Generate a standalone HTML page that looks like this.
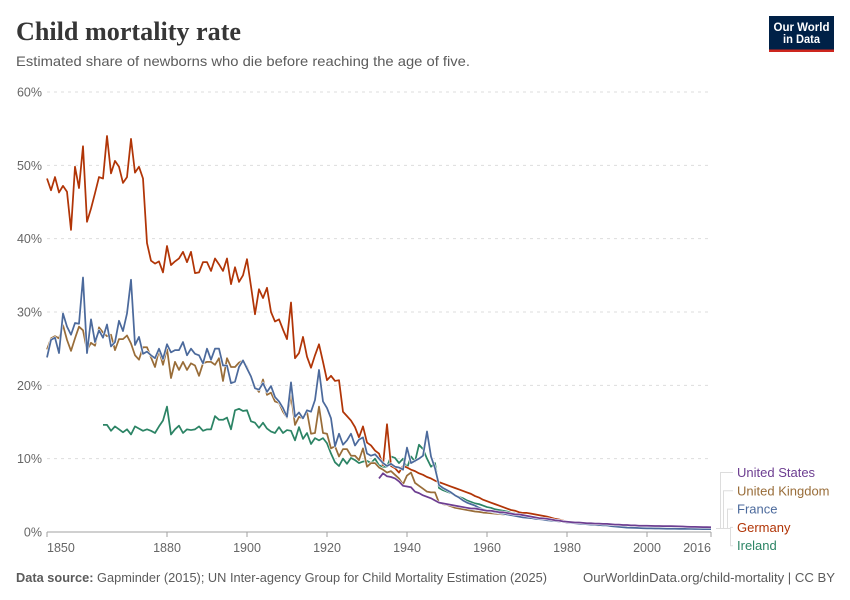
<!DOCTYPE html>
<html lang="en">
<head>
<meta charset="utf-8">
<title>Child mortality rate</title>
<style>
html,body{margin:0;padding:0;background:#fff;}
svg{display:block;font-family:"Liberation Sans",sans-serif;}
</style>
</head>
<body>
<svg id="chart" width="850" height="600" viewBox="0 0 850 600" xmlns="http://www.w3.org/2000/svg">
  <rect x="0" y="0" width="850" height="600" fill="#fff"/>
  <text x="16" y="40" font-family="'Liberation Serif',serif" font-weight="700" font-size="26" fill="#363636" textLength="225" lengthAdjust="spacingAndGlyphs">Child mortality rate</text>
  <text x="16" y="66" font-size="14" fill="#5b5b5b" textLength="454" lengthAdjust="spacingAndGlyphs">Estimated share of newborns who die before reaching the age of five.</text>
  <g>
    <rect x="769" y="16" width="65" height="36" fill="#002147"/>
    <rect x="769" y="49.5" width="65" height="2.5" fill="#ce261e"/>
    <text x="801.5" y="31" text-anchor="middle" font-size="12" font-weight="700" fill="#fff" textLength="56" lengthAdjust="spacingAndGlyphs">Our World</text>
    <text x="801.5" y="43" text-anchor="middle" font-size="12" font-weight="700" fill="#fff" textLength="37" lengthAdjust="spacingAndGlyphs">in Data</text>
  </g>
  <g id="grid"></g>
  <g id="yaxis"></g>
  <g id="xaxis"></g>
  <g id="series"></g>
  <g id="legend"></g>
  <text x="16" y="582" font-size="13" fill="#5b5b5b" textLength="531" lengthAdjust="spacingAndGlyphs"><tspan font-weight="700">Data source:</tspan> Gapminder (2015); UN Inter-agency Group for Child Mortality Estimation (2025)</text>
  <text x="835" y="582" text-anchor="end" font-size="13" fill="#5b5b5b" textLength="252" lengthAdjust="spacingAndGlyphs">OurWorldinData.org/child-mortality | CC BY</text>
</svg>
<script>
const yTicks = [0, 10, 20, 30, 40, 50, 60];
const xTicks = [1850, 1880, 1900, 1920, 1940, 1960, 1980, 2000, 2016];

const germanyStart = 1850;
const germanyValues = [
48.2,46.6,48.4,46.3,47.2,46.4,41.2,49.8,46.9,52.6,
42.3,44.1,46.2,48.4,48.2,54.0,48.9,50.6,49.8,47.6,
48.4,53.6,49.0,49.8,48.2,39.4,37.0,36.6,36.9,35.4,
39.0,36.4,36.9,37.3,38.2,36.8,38.2,35.3,35.4,36.8,
36.8,35.6,37.3,36.5,35.6,37.3,33.8,36.1,34.1,35.0,
37.2,33.5,29.7,33.1,31.9,33.3,30.0,28.7,29.0,27.6,
26.3,31.3,23.7,24.4,26.6,23.9,22.4,24.1,25.6,23.2,
20.7,21.3,20.6,20.7,16.4,15.8,15.2,14.3,12.9,14.4,
12.2,11.8,11.1,10.7,9.1,14.7,9.0,8.7,8.1,9.0,
8.8,8.5,8.3,8.0,7.8,7.5,7.3,7.0,6.8,6.6,
6.4,6.2,6.0,5.8,5.6,5.4,5.2,4.9,4.7,4.4,
4.2,4.0,3.8,3.6,3.4,3.2,3.0,2.9,2.7,2.6,
2.6,2.5,2.4,2.3,2.2,2.1,1.95,1.8,1.7,1.55,
1.4,1.35,1.25,1.2,1.1,1.05,1.0,0.95,0.9,0.9,
0.85,0.8,0.75,0.7,0.65,0.6,0.6,0.55,0.55,0.55,
0.55,0.5,0.5,0.5,0.48,0.47,0.45,0.45,0.43,0.43,
0.42,0.41,0.4,0.4,0.39,0.38,0.38];

const franceStart = 1850;
const franceValues = [
23.8,26.2,26.5,24.4,29.8,28.0,26.9,28.5,28.4,34.7,
24.4,29.0,25.9,27.5,26.5,28.3,25.3,25.9,28.8,27.4,
29.8,34.4,25.5,26.6,24.3,24.6,24.1,23.7,25.0,23.6,
25.6,24.5,24.8,24.8,25.9,24.1,25.0,24.3,24.1,23.0,
25.0,23.5,25.0,25.0,22.7,22.7,20.3,20.5,22.5,23.4,
22.3,21.2,19.6,19.4,20.3,19.1,19.9,18.4,17.8,16.9,
15.7,20.4,15.7,16.3,15.5,16.6,16.4,18.0,22.1,17.8,
16.9,15.5,11.7,13.4,11.9,12.5,13.4,11.8,12.6,12.9,
10.7,10.4,10.6,10.0,9.4,9.0,9.3,8.9,8.8,8.5,
11.5,9.4,9.7,10.0,10.4,13.7,10.3,8.7,6.4,6.0,
5.7,5.4,5.0,4.7,4.3,4.0,3.8,3.6,3.3,3.1,
2.9,2.8,2.7,2.6,2.5,2.4,2.3,2.2,2.1,2.0,
1.95,1.9,1.8,1.75,1.7,1.6,1.55,1.5,1.45,1.4,
1.3,1.25,1.2,1.15,1.1,1.05,1.0,1.0,0.95,0.9,
0.9,0.8,0.75,0.7,0.65,0.6,0.58,0.56,0.54,0.52,
0.5,0.5,0.48,0.48,0.46,0.45,0.45,0.44,0.43,0.42,
0.42,0.42,0.41,0.41,0.4,0.4,0.4];

const ukStart = 1850;
const ukValues = [
24.9,26.4,26.7,26.4,28.2,26.2,24.7,26.4,28.0,27.5,
24.8,25.8,25.4,27.9,27.2,26.7,26.9,24.8,26.3,26.3,
26.8,25.7,24.1,23.5,25.2,25.2,23.8,22.5,24.8,22.8,
25.0,21.0,23.2,22.1,23.2,22.1,23.0,22.7,21.3,23.0,
23.2,23.2,22.8,23.7,20.6,23.7,22.5,22.5,23.1,23.4,
22.5,21.2,19.8,19.1,20.8,18.7,19.0,17.8,17.6,16.4,
15.6,18.7,14.6,15.7,15.5,16.4,13.4,13.5,17.1,13.5,
13.4,11.4,11.7,10.3,11.3,11.3,10.4,10.4,9.8,11.4,
8.9,9.4,9.4,8.8,8.5,8.1,8.3,7.8,7.3,6.5,
7.7,8.1,6.7,6.3,5.9,5.5,5.4,5.4,4.0,3.8,
3.7,3.5,3.3,3.2,3.1,3.0,2.9,2.8,2.75,2.65,
2.6,2.55,2.5,2.45,2.4,2.35,2.3,2.25,2.2,2.15,
2.1,2.05,2.0,1.9,1.85,1.8,1.7,1.6,1.55,1.45,
1.4,1.3,1.25,1.2,1.15,1.1,1.1,1.05,1.0,1.0,
0.95,0.9,0.8,0.75,0.72,0.7,0.7,0.68,0.66,0.65,
0.65,0.63,0.63,0.62,0.6,0.6,0.58,0.56,0.55,0.53,
0.5,0.5,0.47,0.46,0.45,0.44,0.44];

const irelandStart = 1864;
const irelandValues = [
14.6,14.6,13.8,14.4,14.0,13.6,14.0,13.3,14.4,14.1,
13.8,14.0,13.8,13.5,14.4,15.2,17.1,13.3,14.0,14.5,
13.5,14.0,13.9,14.0,14.4,13.8,14.0,14.0,15.8,15.3,
15.3,15.6,14.0,16.6,16.8,16.5,16.6,15.1,14.9,14.2,
14.9,14.1,13.7,13.5,14.3,13.5,13.9,13.8,12.5,14.3,
12.7,13.5,12.0,12.8,12.5,12.8,12.1,10.7,9.5,9.0,
10.0,9.3,10.1,9.8,9.4,9.6,9.7,9.4,10.0,9.1,
8.9,8.9,10.3,10.1,9.4,10.0,8.7,10.3,9.6,11.9,
11.3,10.0,8.9,9.4,6.0,5.7,5.5,5.3,5.0,4.8,
4.6,4.3,4.1,3.9,3.8,3.6,3.4,3.3,3.1,3.0,
2.9,2.8,2.6,2.5,2.3,2.2,2.1,2.0,1.95,1.9,
1.8,1.75,1.7,1.6,1.55,1.45,1.35,1.3,1.25,1.2,
1.15,1.1,1.05,1.0,0.95,0.92,0.9,0.85,0.8,0.75,
0.72,0.7,0.68,0.66,0.64,0.62,0.6,0.58,0.56,0.54,
0.52,0.5,0.5,0.48,0.47,0.46,0.45,0.44,0.43,0.42,
0.42,0.41,0.4];

const usStart = 1933;
const usValues = [
7.3,8.0,7.6,7.5,7.3,6.9,6.3,6.2,6.1,5.5,
5.3,5.0,4.8,4.6,4.3,4.0,3.9,3.8,3.7,3.6,
3.5,3.4,3.3,3.2,3.2,3.1,3.0,2.9,2.9,2.8,
2.7,2.7,2.6,2.5,2.4,2.4,2.3,2.2,2.1,2.0,
1.9,1.85,1.8,1.7,1.6,1.55,1.45,1.4,1.35,1.3,
1.3,1.25,1.2,1.2,1.15,1.15,1.1,1.1,1.05,1.0,
1.0,0.95,0.95,0.9,0.9,0.85,0.85,0.85,0.83,0.82,
0.82,0.8,0.8,0.8,0.78,0.76,0.75,0.72,0.7,0.7,
0.68,0.67,0.66,0.65];

const plotLeft = 47, plotRight = 711, plotBottom = 532, plotTop = 92;
const NS = 'http://www.w3.org/2000/svg';
function xScale(year){ return plotLeft + (year - 1850) * (plotRight - plotLeft) / (2016 - 1850); }
function yScale(v){ return plotBottom - v * (plotBottom - plotTop) / 60; }
function make(tag, parent, attrs, txt){
  const el = document.createElementNS(NS, tag);
  for (const k in attrs) el.setAttribute(k, attrs[k]);
  if (txt !== undefined) el.textContent = txt;
  parent.appendChild(el);
  return el;
}
const gGrid = document.getElementById('grid');
const gY = document.getElementById('yaxis');
const gX = document.getElementById('xaxis');
const gS = document.getElementById('series');
const gL = document.getElementById('legend');

yTicks.forEach(function(t){
  if (t > 0) {
    const line = make('line', gGrid, {x1: plotLeft, x2: plotRight, y1: yScale(t), y2: yScale(t), stroke: '#dddddd', 'stroke-dasharray': '3,4', 'stroke-width': 1});
    
    
  }
  const lab = make('text', gY, {x: 42, y: yScale(t) + 4.5, 'text-anchor': 'end', 'font-size': 12.5, fill: '#666'}, t + '%');
  
  
});

const baseline = make('line', gX, {x1: plotLeft, x2: plotRight, y1: plotBottom, y2: plotBottom, stroke: '#a1a1a1', 'stroke-width': 1});


xTicks.forEach(function(t, i){
  const tick = make('line', gX, {x1: xScale(t), x2: xScale(t), y1: plotBottom, y2: plotBottom + 5, stroke: '#a1a1a1', 'stroke-width': 1});
  
  
  const anchor = i === 0 ? 'start' : (i === xTicks.length - 1 ? 'end' : 'middle');
  const lab = make('text', gX, {x: xScale(t), y: plotBottom + 20, 'text-anchor': anchor, 'font-size': 12.5, fill: '#666'}, String(t));
  
  
});

const drawOrder = [
  {key: 'ireland', start: irelandStart, values: irelandValues, color: '#2c8465'},
  {key: 'germany', start: germanyStart, values: germanyValues, color: '#b13507'},
  {key: 'united-kingdom', start: ukStart, values: ukValues, color: '#996d39'},
  {key: 'france', start: franceStart, values: franceValues, color: '#4c6a9c'},
  {key: 'united-states', start: usStart, values: usValues, color: '#6d3e91'}
];
drawOrder.forEach(function(s){
  const d = s.values.map(function(v, i){
    return (i ? 'L' : 'M') + xScale(s.start + i).toFixed(2) + ' ' + yScale(v).toFixed(2);
  }).join('');
  const halo = make('path', gS, {d: d, fill: 'none', stroke: '#fff', 'stroke-width': 2.8, 'stroke-linejoin': 'round'});
  
  
  const line = make('path', gS, {d: d, fill: 'none', stroke: s.color, 'stroke-width': 1.75, 'stroke-linejoin': 'round'});
  
  
});

const legendNames = ['United States', 'United Kingdom', 'France', 'Germany', 'Ireland'];
const legendColors = ['#6d3e91', '#996d39', '#4c6a9c', '#b13507', '#2c8465'];
const legendRowGap = 18.3, legendFirstY = 472.5, connectorY = 528.5;
const connectorXs = [720.5, 723.5, 727.5, 730.5, 730.5];
legendNames.forEach(function(name, i){
  const y = legendFirstY + i * legendRowGap;
  const conn = make('path', gL, {d: 'M716 ' + connectorY + 'H' + connectorXs[i] + 'V' + y + 'H733', fill: 'none', stroke: '#dddddd', 'stroke-width': 1});
  
  
  const lab = make('text', gL, {x: 737, y: y + 4.5, 'font-size': 13, fill: legendColors[i]}, name);
  
  
});
</script>
</body>
</html>
